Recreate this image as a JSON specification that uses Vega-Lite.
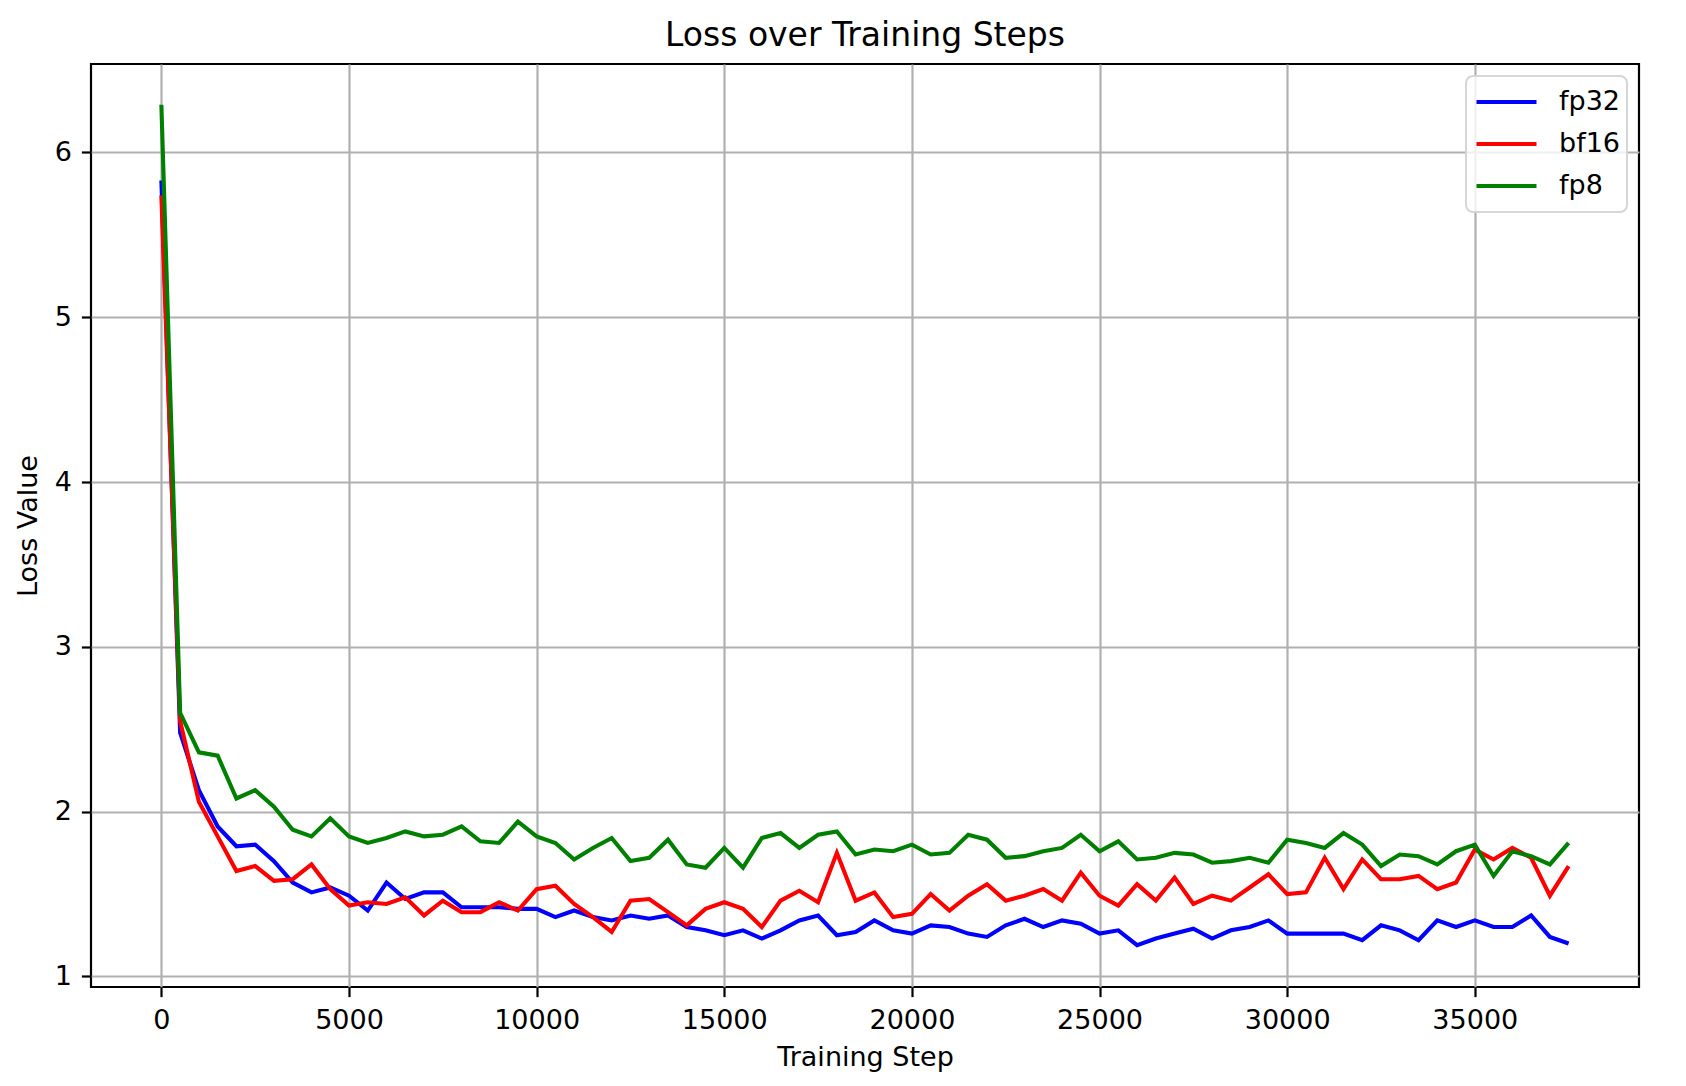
{
  "$schema": "https://vega.github.io/schema/vega-lite/v6.json",
  "width": 1548,
  "height": 923,
  "autosize": {"type": "none"},
  "padding": {"left": 91, "top": 64, "right": 47, "bottom": 99},
  "background": "white",
  "title": {"text": "Loss over Training Steps", "fontSize": 33, "font": "DejaVu Sans", "fontWeight": "normal", "color": "black", "anchor": "middle", "offset": 11},
  "config": {
    "font": "DejaVu Sans",
    "view": {"stroke": "black", "strokeWidth": 2.2},
    "axis": {
      "domain": false,
      "grid": true,
      "gridColor": "#b0b0b0",
      "gridWidth": 2.2,
      "tickColor": "black",
      "tickWidth": 2.2,
      "tickSize": 9.6,
      "labelFontSize": 27,
      "labelColor": "black",
      "titleFontSize": 27,
      "titleFontWeight": "normal",
      "titleColor": "black",
      "labelFont": "DejaVu Sans",
      "titleFont": "DejaVu Sans"
    },
    "legend": {
      "orient": "top-right",
      "offset": 12,
      "title": null,
      "symbolType": "stroke",
      "symbolSize": 3600,
      "symbolStrokeWidth": 4.1,
      "symbolOffset": 2,
      "labelFontSize": 27,
      "labelFont": "DejaVu Sans",
      "labelColor": "black",
      "labelOffset": 20,
      "clipHeight": 40,
      "rowPadding": 2,
      "padding": 6,
      "strokeColor": "#d6d6d6",
      "strokeWidth": 2,
      "fillColor": "rgba(255,255,255,0.8)",
      "cornerRadius": 7
    }
  },
  "data": {
    "values": [
      {"step": 0, "fp32": 5.83, "bf16": 5.74, "fp8": 6.29},
      {"step": 500, "fp32": 2.48, "bf16": 2.55, "fp8": 2.60},
      {"step": 1000, "fp32": 2.13, "bf16": 2.06, "fp8": 2.36},
      {"step": 1500, "fp32": 1.91, "bf16": 1.85, "fp8": 2.34},
      {"step": 2000, "fp32": 1.79, "bf16": 1.64, "fp8": 2.08},
      {"step": 2500, "fp32": 1.80, "bf16": 1.67, "fp8": 2.13},
      {"step": 3000, "fp32": 1.70, "bf16": 1.58, "fp8": 2.03},
      {"step": 3500, "fp32": 1.57, "bf16": 1.59, "fp8": 1.89},
      {"step": 4000, "fp32": 1.51, "bf16": 1.68, "fp8": 1.85},
      {"step": 4500, "fp32": 1.54, "bf16": 1.53, "fp8": 1.96},
      {"step": 5000, "fp32": 1.49, "bf16": 1.43, "fp8": 1.85},
      {"step": 5500, "fp32": 1.40, "bf16": 1.45, "fp8": 1.81},
      {"step": 6000, "fp32": 1.57, "bf16": 1.44, "fp8": 1.84},
      {"step": 6500, "fp32": 1.47, "bf16": 1.48, "fp8": 1.88},
      {"step": 7000, "fp32": 1.51, "bf16": 1.37, "fp8": 1.85},
      {"step": 7500, "fp32": 1.51, "bf16": 1.46, "fp8": 1.86},
      {"step": 8000, "fp32": 1.42, "bf16": 1.39, "fp8": 1.91},
      {"step": 8500, "fp32": 1.42, "bf16": 1.39, "fp8": 1.82},
      {"step": 9000, "fp32": 1.42, "bf16": 1.45, "fp8": 1.81},
      {"step": 9500, "fp32": 1.41, "bf16": 1.40, "fp8": 1.94},
      {"step": 10000, "fp32": 1.41, "bf16": 1.53, "fp8": 1.85},
      {"step": 10500, "fp32": 1.36, "bf16": 1.55, "fp8": 1.81},
      {"step": 11000, "fp32": 1.40, "bf16": 1.44, "fp8": 1.71},
      {"step": 11500, "fp32": 1.36, "bf16": 1.36, "fp8": 1.78},
      {"step": 12000, "fp32": 1.34, "bf16": 1.27, "fp8": 1.84},
      {"step": 12500, "fp32": 1.37, "bf16": 1.46, "fp8": 1.70},
      {"step": 13000, "fp32": 1.35, "bf16": 1.47, "fp8": 1.72},
      {"step": 13500, "fp32": 1.37, "bf16": 1.39, "fp8": 1.83},
      {"step": 14000, "fp32": 1.30, "bf16": 1.31, "fp8": 1.68},
      {"step": 14500, "fp32": 1.28, "bf16": 1.41, "fp8": 1.66},
      {"step": 15000, "fp32": 1.25, "bf16": 1.45, "fp8": 1.78},
      {"step": 15500, "fp32": 1.28, "bf16": 1.41, "fp8": 1.66},
      {"step": 16000, "fp32": 1.23, "bf16": 1.30, "fp8": 1.84},
      {"step": 16500, "fp32": 1.28, "bf16": 1.46, "fp8": 1.87},
      {"step": 17000, "fp32": 1.34, "bf16": 1.52, "fp8": 1.78},
      {"step": 17500, "fp32": 1.37, "bf16": 1.45, "fp8": 1.86},
      {"step": 18000, "fp32": 1.25, "bf16": 1.75, "fp8": 1.88},
      {"step": 18500, "fp32": 1.27, "bf16": 1.46, "fp8": 1.74},
      {"step": 19000, "fp32": 1.34, "bf16": 1.51, "fp8": 1.77},
      {"step": 19500, "fp32": 1.28, "bf16": 1.36, "fp8": 1.76},
      {"step": 20000, "fp32": 1.26, "bf16": 1.38, "fp8": 1.80},
      {"step": 20500, "fp32": 1.31, "bf16": 1.50, "fp8": 1.74},
      {"step": 21000, "fp32": 1.30, "bf16": 1.40, "fp8": 1.75},
      {"step": 21500, "fp32": 1.26, "bf16": 1.49, "fp8": 1.86},
      {"step": 22000, "fp32": 1.24, "bf16": 1.56, "fp8": 1.83},
      {"step": 22500, "fp32": 1.31, "bf16": 1.46, "fp8": 1.72},
      {"step": 23000, "fp32": 1.35, "bf16": 1.49, "fp8": 1.73},
      {"step": 23500, "fp32": 1.30, "bf16": 1.53, "fp8": 1.76},
      {"step": 24000, "fp32": 1.34, "bf16": 1.46, "fp8": 1.78},
      {"step": 24500, "fp32": 1.32, "bf16": 1.63, "fp8": 1.86},
      {"step": 25000, "fp32": 1.26, "bf16": 1.49, "fp8": 1.76},
      {"step": 25500, "fp32": 1.28, "bf16": 1.43, "fp8": 1.82},
      {"step": 26000, "fp32": 1.19, "bf16": 1.56, "fp8": 1.71},
      {"step": 26500, "fp32": 1.23, "bf16": 1.46, "fp8": 1.72},
      {"step": 27000, "fp32": 1.26, "bf16": 1.60, "fp8": 1.75},
      {"step": 27500, "fp32": 1.29, "bf16": 1.44, "fp8": 1.74},
      {"step": 28000, "fp32": 1.23, "bf16": 1.49, "fp8": 1.69},
      {"step": 28500, "fp32": 1.28, "bf16": 1.46, "fp8": 1.70},
      {"step": 29000, "fp32": 1.30, "bf16": 1.54, "fp8": 1.72},
      {"step": 29500, "fp32": 1.34, "bf16": 1.62, "fp8": 1.69},
      {"step": 30000, "fp32": 1.26, "bf16": 1.50, "fp8": 1.83},
      {"step": 30500, "fp32": 1.26, "bf16": 1.51, "fp8": 1.81},
      {"step": 31000, "fp32": 1.26, "bf16": 1.72, "fp8": 1.78},
      {"step": 31500, "fp32": 1.26, "bf16": 1.53, "fp8": 1.87},
      {"step": 32000, "fp32": 1.22, "bf16": 1.71, "fp8": 1.80},
      {"step": 32500, "fp32": 1.31, "bf16": 1.59, "fp8": 1.67},
      {"step": 33000, "fp32": 1.28, "bf16": 1.59, "fp8": 1.74},
      {"step": 33500, "fp32": 1.22, "bf16": 1.61, "fp8": 1.73},
      {"step": 34000, "fp32": 1.34, "bf16": 1.53, "fp8": 1.68},
      {"step": 34500, "fp32": 1.30, "bf16": 1.57, "fp8": 1.76},
      {"step": 35000, "fp32": 1.34, "bf16": 1.77, "fp8": 1.80},
      {"step": 35500, "fp32": 1.30, "bf16": 1.71, "fp8": 1.61},
      {"step": 36000, "fp32": 1.30, "bf16": 1.78, "fp8": 1.76},
      {"step": 36500, "fp32": 1.37, "bf16": 1.72, "fp8": 1.73},
      {"step": 37000, "fp32": 1.24, "bf16": 1.49, "fp8": 1.68},
      {"step": 37500, "fp32": 1.20, "bf16": 1.67, "fp8": 1.81}
    ]
  },
  "transform": [{"fold": ["fp32", "bf16", "fp8"], "as": ["run", "loss"]}],
  "mark": {"type": "line", "strokeWidth": 4.1, "clip": true},
  "encoding": {
    "x": {
      "field": "step", "type": "quantitative",
      "scale": {"domain": [-1875, 39375], "nice": false, "zero": false},
      "axis": {"title": "Training Step", "values": [0, 5000, 10000, 15000, 20000, 25000, 30000, 35000], "format": "d", "labelPadding": 10.8, "titlePadding": 11}
    },
    "y": {
      "field": "loss", "type": "quantitative",
      "scale": {"domain": [0.936, 6.537], "nice": false, "zero": false},
      "axis": {"title": "Loss Value", "values": [1, 2, 3, 4, 5, 6], "format": "d", "labelPadding": 10, "titlePadding": 12}
    },
    "color": {
      "field": "run", "type": "nominal",
      "scale": {"domain": ["fp32", "bf16", "fp8"], "range": ["#0000ff", "#ff0000", "#008000"]},
      "legend": {"title": null}
    },
    "order": {"field": "step", "type": "quantitative"}
  }
}
